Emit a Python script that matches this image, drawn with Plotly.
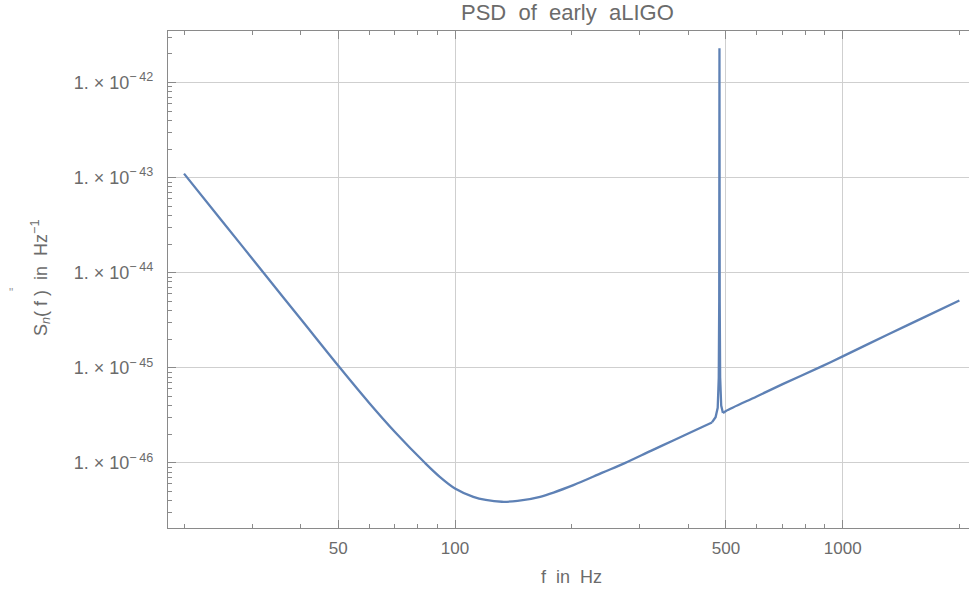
import plotly.graph_objects as go

# Frequencies (Hz) and PSD values (Hz^-1)
# low-frequency branch (up to the resonance)
freq_low = [20, 25, 32.3, 40, 50.5, 60, 70, 83.6, 91.5, 100, 111.5, 120, 132, 145,
            165.8, 202, 240, 275, 320, 366.7, 430, 460]
psd_low = [1.102e-43, 3.548e-44, 9.64e-45, 3.258e-45, 1.0e-45, 4.295e-46, 2.113e-46, 1.002e-46,
           7.096e-47, 5.383e-47, 4.395e-47, 4.074e-47, 3.899e-47, 3.981e-47,
           4.395e-47, 5.834e-47, 7.889e-47, 1.0e-46, 1.337e-46, 1.730e-46, 2.344e-46, 2.661e-46]
# resonance line (~481 Hz)
freq_peak = [460, 470, 476, 479, 480.3, 480.8, 481.0, 481.2, 481.7, 483, 486, 491]
psd_peak = [2.661e-46, 3.02e-46, 3.8e-46, 7.9e-46, 5.0e-45, 1.0e-43, 2.3e-42, 1.0e-43,
            5.0e-45, 7.9e-46, 4.0e-46, 3.35e-46]
# high-frequency branch
freq_high = [491, 500, 600, 700, 877, 1000, 1300, 1600, 2000]
psd_high = [3.35e-46, 3.516e-46, 5.0e-46, 6.73e-46, 1.023e-45, 1.318e-45, 2.213e-45,
            3.311e-45, 5.105e-45]

x_major = [50, 100, 500, 1000]
x_major_text = ["50", "100", "500", "1000"]
x_minor = [20, 30, 40, 60, 70, 80, 90, 200, 300, 400, 600, 700, 800, 900, 2000]
y_major_exp = [-42, -43, -44, -45, -46]
y_major = [10.0 ** e for e in y_major_exp]
y_major_text = ["1.\u00a0×\u00a010<sup>−\u2009%d</sup>" % (-e) for e in y_major_exp]
y_minor = [k * 10.0 ** e for e in range(-47, -41) for k in range(2, 10)]

NB = "\u00a0"
title_text = "PSD" + NB * 2 + "of" + NB * 2 + "early" + NB * 2 + "aLIGO"
x_title = "f" + NB * 2 + "in" + NB * 2 + "Hz"
y_title = "S<sub><i>n</i></sub>(" + NB + "f" + NB + ")" + NB * 2 + "in" + NB * 2 + "Hz<sup>−1</sup>"

TXT = "#6b6b6b"
AX = "#8a8a8a"
GRID = "#cfcfcf"
LINE = dict(color="#5E81B5", width=2.3)

fig = go.Figure()
fig.add_trace(go.Scatter(x=freq_low, y=psd_low, mode="lines",
                         line=dict(LINE, shape="spline", smoothing=1.0),
                         showlegend=False))
fig.add_trace(go.Scatter(x=freq_peak, y=psd_peak, mode="lines",
                         line=LINE, showlegend=False))
fig.add_trace(go.Scatter(x=freq_high, y=psd_high, mode="lines",
                         line=dict(LINE, shape="spline", smoothing=1.0),
                         showlegend=False))

W, H = 969, 592
ml, mr, mt, mb = 168, 0, 31, 64

fig.update_layout(
    width=W, height=H,
    margin=dict(l=ml, r=mr, t=mt, b=mb),
    paper_bgcolor="white", plot_bgcolor="white",
    font=dict(family="Liberation Sans, Arial, sans-serif", color=TXT, size=17),
    showlegend=False,
)

fig.update_xaxes(
    type="log", range=[1.2597, 3.3258],
    tickmode="array", tickvals=x_major, ticktext=x_major_text,
    ticks="inside", ticklen=8, tickwidth=1, tickcolor=AX,
    showline=True, linecolor=AX, linewidth=1.3, mirror="allticks",
    showgrid=True, gridcolor=GRID, gridwidth=1,
    zeroline=False,
    minor=dict(tickmode="array", tickvals=x_minor, ticks="inside", ticklen=4,
               tickcolor=AX, showgrid=False),
    tickfont=dict(size=17, color=TXT),
    ticklabelstandoff=4,
)
fig.update_yaxes(
    type="log", range=[-46.685, -41.4575],
    tickmode="array", tickvals=y_major, ticktext=y_major_text,
    ticks="inside", ticklen=8, tickwidth=1, tickcolor=AX,
    showline=True, linecolor=AX, linewidth=1.3, mirror=False,
    showgrid=True, gridcolor=GRID, gridwidth=1,
    zeroline=False,
    minor=dict(tickmode="array", tickvals=y_minor, ticks="inside", ticklen=4,
               tickcolor=AX, showgrid=False),
    tickfont=dict(size=18, color=TXT),
    ticklabelstandoff=10,
)

ph = H - mt - mb
pw = W - ml - mr
fig.add_annotation(text=title_text, xref="paper", yref="paper",
                   x=(567 - ml) / pw, y=(H - mb - 12) / ph, showarrow=False,
                   xanchor="center", yanchor="middle",
                   font=dict(size=22, color=TXT))
fig.add_annotation(text=x_title, xref="paper", yref="paper",
                   x=(571 - ml) / pw, y=-(577 - (H - mb)) / ph, showarrow=False,
                   xanchor="center", yanchor="middle",
                   font=dict(size=18, color=TXT))
fig.add_annotation(text=y_title, xref="paper", yref="paper",
                   x=(40 - ml) / pw, y=((H - mb) - 278) / ph, showarrow=False,
                   xanchor="center", yanchor="middle", textangle=-90,
                   font=dict(size=18, color=TXT))
fig.add_annotation(text='"', xref="paper", yref="paper",
                   x=(11 - ml) / pw, y=((H - mb) - 293) / ph, showarrow=False,
                   xanchor="center", yanchor="middle",
                   font=dict(size=12, color="#999999"))

fig.write_html("out.html", config={"displayModeBar": False},
               post_script="document.body.style.margin='0';")
